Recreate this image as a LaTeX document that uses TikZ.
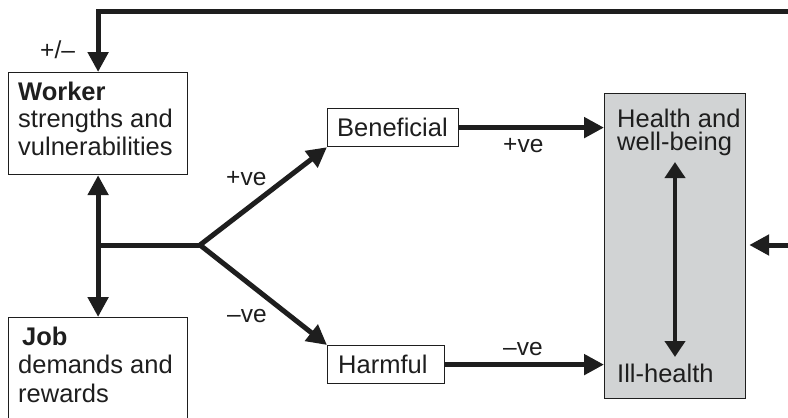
\documentclass[tikz,border=0pt]{standalone}
\usepackage{fontspec}
\setmainfont{Liberation Sans}
\usetikzlibrary{arrows.meta}
\definecolor{boxgray}{RGB}{209,211,212}
\definecolor{ink}{RGB}{30,30,30}
\begin{document}
\begin{tikzpicture}[x=1pt,y=-1pt,
  box/.style={draw=ink, line width=1.2pt, inner sep=0pt, anchor=north west},
  txt/.style={font=\fontsize{25.5}{28}\selectfont, text=ink, inner sep=0pt, anchor=base west},
  btxt/.style={txt, font=\fontsize{25.5}{28}\selectfont\bfseries},
  ltxt/.style={txt, font=\fontsize{24.5}{28}\selectfont},
  conn/.style={line width=5pt, draw=ink},
  tip/.style={-{Triangle[length=20pt,width=20pt]}},
  dtip/.style={{Triangle[length=16pt,width=20pt]}-{Triangle[length=16pt,width=20pt]}},
]
\useasboundingbox (0,0) rectangle (788,418);
\clip (0,0) rectangle (788,418);
% boxes
\node[box, minimum width=179pt, minimum height=102pt] (worker) at (8,72) {};
\node[box, minimum width=179pt, minimum height=110pt] (job) at (8,317) {};
\node[box, minimum width=131pt, minimum height=38pt] (benef) at (327,108) {};
\node[box, minimum width=117pt, minimum height=38pt] (harm) at (327,345) {};
\node[box, fill=boxgray, minimum width=141pt, minimum height=305pt] (health) at (604,93) {};
% texts
\node[btxt] (tw1) at (18,100) {Worker};
\node[txt] (tw2) at (18,127) {strengths and};
\node[txt] (tw3) at (18,155) {vulnerabilities};
\node[btxt] (tj1) at (22,345) {Job};
\node[txt] (tj2) at (18,373) {demands and};
\node[txt] (tj3) at (18,402) {rewards};
\node[txt] (tb) at (337,136) {Beneficial};
\node[txt] (th) at (338,373) {Harmful};
\node[txt] (th1) at (617,127) {Health and};
\node[txt] (th2) at (617,150) {well-being};
\node[txt] (th3) at (617,382) {Ill-health};
\node[ltxt] (lpm) at (40,58) {+/--};
\node[ltxt] (lp1) at (226,185) {+ve};
\node[ltxt] (lm1) at (227,322) {--ve};
\node[ltxt] (lp2) at (503,152) {+ve};
\node[ltxt] (lm2) at (503,355) {--ve};
% coordinates
\coordinate (j) at (200,245);
\coordinate (topR) at (792,11);
\coordinate (rR) at (792,245);
\coordinate (hu) at (675,162);
\coordinate (hd) at (675,357);
% connectors
\draw[conn, tip] (topR) -- (topR -| worker.north) -- (worker.north);
\draw[conn] (worker.south |- j) -- (j);
\draw[conn, tip] (worker.south |- j) -- (worker.south);
\draw[conn, tip] (worker.south |- j) -- (job.north);
\draw[conn, tip] (j) -- (benef.south west);
\draw[conn, tip] (j) -- (harm.north west);
\draw[conn, tip] (benef.east) -- (benef.east -| health.west);
\draw[conn, tip] (harm.east) -- (harm.east -| health.west);
\draw[conn, tip, shorten >=3pt] (rR) -- (rR -| health.east);
\draw[line width=4pt, draw=ink, dtip] (hu) -- (hd);
\end{tikzpicture}
\end{document}
